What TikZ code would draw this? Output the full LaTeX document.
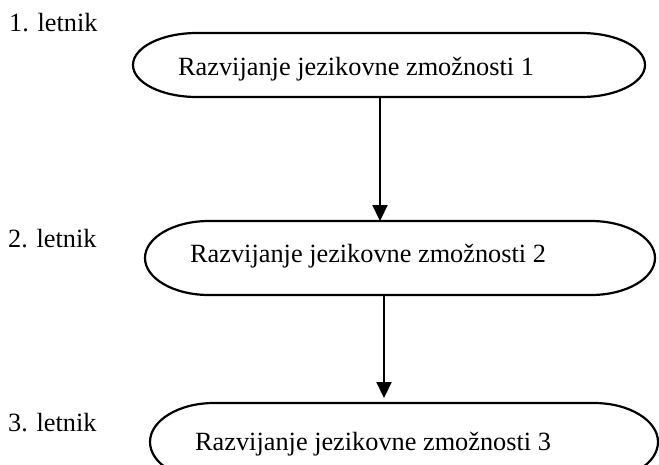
\documentclass[tikz,border=0pt]{standalone}
\usepackage{fontspec}
\setmainfont{Liberation Serif}
\usetikzlibrary{arrows.meta}
\newcommand\drawterm[2]{%
  \draw[outline] ([xshift=64pt]#1.north west) -- ([xshift=-64pt]#1.north east)
    arc[start angle=90,end angle=-90,x radius=64pt,y radius=#2]
    -- ([xshift=64pt]#1.south west)
    arc[start angle=270,end angle=90,x radius=64pt,y radius=#2] -- cycle;}
\begin{document}
\begin{tikzpicture}[x=1pt,y=-1pt,
  box/.style={inner sep=0pt,outer sep=0pt,minimum width=#1},
  outline/.style={line width=2.2pt},
  txt/.style={anchor=base west,inner sep=0pt,font=\fontsize{26.3}{30}\selectfont},
  arr/.style={line width=2.2pt,-{Triangle[width=15pt,length=16pt]}}]
\useasboundingbox (0,0) rectangle (659,464);
\clip (0,0) rectangle (659,464);
% shape placeholders
\node[box=512pt,minimum height=64pt] (s1) at (389,65) {};
\node[box=510pt,minimum height=74pt] (s2) at (400,258) {};
\node[box=508pt,minimum height=78pt] (s3) at (404,442) {};
\drawterm{s1}{32pt}
\drawterm{s2}{37pt}
\drawterm{s3}{39pt}
% texts
\node[txt] (t1) at (178,75) {Razvijanje jezikovne zmožnosti 1};
\node[txt] (t2) at (190,262) {Razvijanje jezikovne zmožnosti 2};
\node[txt] (t3) at (195,450) {Razvijanje jezikovne zmožnosti 3};
\node[txt] (l1) at (9,31) {1. letnik};
\node[txt] (l2) at (8,247) {2. letnik};
\node[txt] (l3) at (8,431) {3. letnik};
% connectors
\draw[arr] ([xshift=-9pt]s1.south) -- ([xshift=-9pt]s1.south |- s2.north);
\draw[arr] ([xshift=-16pt]s2.south) -- ([xshift=-16pt,yshift=5pt]s2.south |- s3.north);
\end{tikzpicture}
\end{document}
